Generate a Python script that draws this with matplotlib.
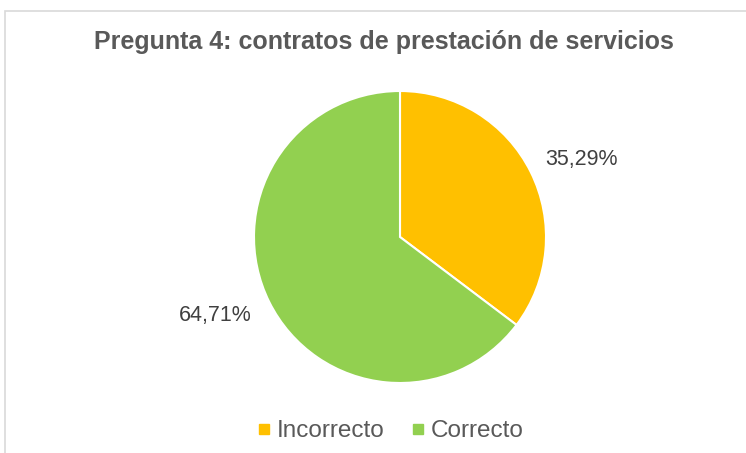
import matplotlib
matplotlib.use("Agg")
import matplotlib.pyplot as plt
from matplotlib.patches import Rectangle
from matplotlib.lines import Line2D

plt.rcParams['font.family'] = ['Liberation Sans', 'DejaVu Sans']

categories = ["Incorrecto", "Correcto"]
values = [35.29, 64.71]
colors = ["#FFC000", "#92D050"]
title = "Pregunta 4: contratos de prestación de servicios"

# label placement (in pie-radius units), as in the original layout
label_pos = [(1.24, 0.53), (-1.265, -0.535)]

W, H = 746, 453
fig = plt.figure(figsize=(W / 100, H / 100), dpi=100)

# chart border
fig.patches.append(Rectangle((5 / W, -0.1), 1.2, 1 - 10.5 / H + 0.1, transform=fig.transFigure,
                             fill=False, edgecolor="#D9D9D9", linewidth=1.2))

cx, cy, r = 400, 237, 146
ax = fig.add_axes([(cx - r) / W, (H - cy - r) / H, 2 * r / W, 2 * r / H])
wedges, texts, autotexts = ax.pie(
    values, colors=colors, startangle=90, counterclock=False,
    wedgeprops=dict(edgecolor="white", linewidth=1.5),
    autopct=lambda p: f"{p:.2f}%".replace(".", ","), pctdistance=1.3,
    textprops=dict(fontsize=15.5, color="#404040"))
for t, pos in zip(autotexts, label_pos):
    t.set_position(pos)
    t.set_ha("center")
    t.set_va("center")
ax.set_xlim(-1, 1)
ax.set_ylim(-1, 1)
ax.set_aspect("equal")

fig.text(384 / W, 1 - 49 / H, title, ha="center", va="baseline",
         fontsize=18, fontweight="bold", color="#595959")

handles = [Line2D([], [], marker="s", linestyle="none", markersize=7.5,
                  markerfacecolor=c, markeredgecolor=c) for c in colors]
fig.legend(handles, categories, loc="center", bbox_to_anchor=(389 / W, 1 - 431 / H),
           ncol=2, frameon=False, fontsize=17.5, labelcolor="#595959",
           handletextpad=0.1, columnspacing=1.0, handlelength=0.8,
           borderaxespad=0, borderpad=0)

fig.savefig("out.png", dpi=100)
